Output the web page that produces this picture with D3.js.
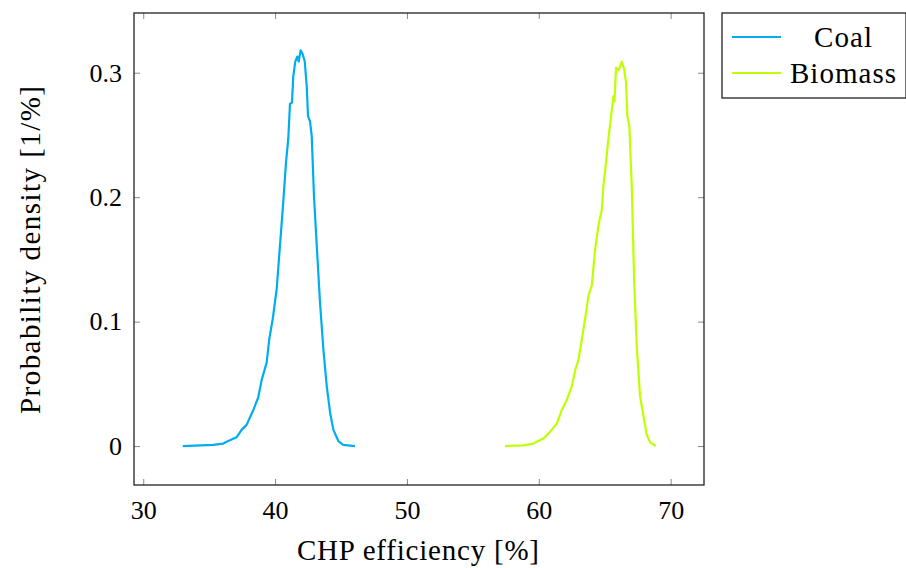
<!DOCTYPE html>
<html>
<head>
<meta charset="utf-8">
<script src="https://cdnjs.cloudflare.com/ajax/libs/d3/7.8.5/d3.min.js"></script>
<style>
  body { margin: 0; background: #fff; }
  svg text { font-family: "Liberation Serif", "DejaVu Serif", serif; fill: #000; }
</style>
</head>
<body>
<svg id="chart" width="906" height="568"></svg>
<script>
// efficiency [%] / density [1/%] pairs
var coalX = [33.0, 35.3, 36.07, 36.45, 37.08, 37.46, 37.84, 38.35, 38.72, 38.98, 39.36, 39.56,
  39.82, 40.12, 40.37, 40.62, 40.83, 41.0, 41.13, 41.28, 41.38, 41.53, 41.68, 41.79, 41.94,
  42.09, 42.25, 42.4, 42.5, 42.65, 42.78, 42.95, 43.16, 43.41, 43.66, 43.92, 44.17, 44.42,
  44.8, 45.17, 46.06];
var coalY = [0, 0.001, 0.002, 0.004, 0.007, 0.013, 0.017, 0.029, 0.039, 0.053, 0.067, 0.086,
  0.102, 0.126, 0.161, 0.196, 0.228, 0.247, 0.275, 0.276, 0.297, 0.309, 0.313, 0.309, 0.318,
  0.315, 0.309, 0.289, 0.265, 0.261, 0.249, 0.201, 0.161, 0.115, 0.078, 0.048, 0.027, 0.013,
  0.004, 0.001, 0];
var bioX = [57.44, 58.83, 59.59, 60.35, 60.73, 61.37, 61.75, 62.12, 62.5, 62.76, 63.0, 63.27,
  63.51, 63.77, 64.02, 64.27, 64.52, 64.78, 64.9, 65.1, 65.28, 65.46, 65.66, 65.74, 65.86,
  66.04, 66.17, 66.29, 66.47, 66.62, 66.72, 66.87, 67.05, 67.23, 67.43, 67.68, 67.94, 68.19,
  68.44, 68.88];
var bioY = [0, 0.0005, 0.002, 0.006, 0.010, 0.018, 0.029, 0.037, 0.048, 0.061, 0.069, 0.086,
  0.102, 0.121, 0.129, 0.158, 0.177, 0.19, 0.209, 0.228, 0.247, 0.263, 0.281, 0.277, 0.304,
  0.302, 0.305, 0.309, 0.303, 0.292, 0.265, 0.257, 0.209, 0.134, 0.080, 0.040, 0.024, 0.009,
  0.003, 0];
var xTicks = [30, 40, 50, 60, 70];
var yTicks = [0, 0.1, 0.2, 0.3];
var seriesNames = ["Coal", "Biomass"];
var seriesColors = ["#00aeef", "#bfff00"];

(function() {
  var svg = d3.select("#chart");
  var mL = 134, mT = 13, w = 570, h = 472;

  var x = d3.scaleLinear().domain([29.3, 72.53]).range([mL, mL + w]);
  var y = d3.scaleLinear().domain([-0.0313, 0.348]).range([mT + h, mT]);

  var g = svg.append("g");

  // inner ticks, mirrored on all four sides
  var tickLen = 6;
  function tickStyle(sel) {
    sel.select(".domain").remove();
    sel.selectAll(".tick line").attr("stroke", "#888").attr("stroke-width", 1);
    sel.selectAll(".tick text").attr("fill", "#000")
      .style("font-family", "'Liberation Serif', serif").style("font-size", "26px");
  }
  g.append("g").attr("transform", "translate(0," + (mT + h) + ")")
    .call(d3.axisBottom(x).tickValues(xTicks).tickFormat(d3.format("d"))
      .tickSizeInner(-tickLen).tickPadding(tickLen + 10))
    .call(tickStyle);
  g.append("g").attr("transform", "translate(0," + mT + ")")
    .call(d3.axisTop(x).tickValues(xTicks).tickFormat("").tickSizeInner(-tickLen))
    .call(tickStyle);
  g.append("g").attr("transform", "translate(" + mL + ",0)")
    .call(d3.axisLeft(y).tickValues(yTicks)
      .tickFormat(function(d) { return d === 0 ? "0" : d3.format(".1f")(d); })
      .tickSizeInner(-tickLen).tickPadding(tickLen + 6))
    .call(tickStyle);
  g.append("g").attr("transform", "translate(" + (mL + w) + ",0)")
    .call(d3.axisRight(y).tickValues(yTicks).tickFormat("").tickSizeInner(-tickLen))
    .call(tickStyle);

  // curves
  var line = d3.line().x(function(d) { return x(d[0]); }).y(function(d) { return y(d[1]); });
  var series = [d3.zip(coalX, coalY), d3.zip(bioX, bioY)];
  g.selectAll("path.curve").data(series).enter().append("path")
    .attr("class", "curve")
    .attr("d", line)
    .attr("fill", "none")
    .attr("stroke", function(d, i) { return seriesColors[i]; })
    .attr("stroke-width", 2.2)
    .attr("stroke-linejoin", "round");

  // frame
  g.append("rect").attr("x", mL).attr("y", mT).attr("width", w).attr("height", h)
    .attr("fill", "none").attr("stroke", "#222").attr("stroke-width", 1.3);

  // axis labels (Palatino in the original is wider, so stretch the spacing)
  svg.append("text").attr("x", mL + w / 2 - 1).attr("y", 560)
    .attr("text-anchor", "middle").style("font-size", "29px")
    .attr("textLength", 242).attr("lengthAdjust", "spacing")
    .text("CHP efficiency [%]");
  svg.append("text").attr("transform", "translate(40," + (mT + h / 2 + 1) + ") rotate(-90)")
    .attr("text-anchor", "middle").style("font-size", "29px")
    .attr("textLength", 328).attr("lengthAdjust", "spacing")
    .text("Probability density [1/%]");

  // legend
  var lg = svg.append("g");
  lg.append("rect").attr("x", 722).attr("y", 13).attr("width", 184).attr("height", 85)
    .attr("fill", "#fff").attr("stroke", "#222").attr("stroke-width", 1.3);
  var items = lg.selectAll("g.item").data(seriesNames).enter().append("g")
    .attr("transform", function(d, i) { return "translate(0," + (37 + i * 36) + ")"; });
  items.append("line").attr("x1", 732).attr("x2", 781).attr("y1", 0).attr("y2", 0)
    .attr("stroke", function(d, i) { return seriesColors[i]; }).attr("stroke-width", 2.2);
  items.append("text").attr("x", 843).attr("y", 10).attr("text-anchor", "middle")
    .style("font-size", "29px")
    .attr("textLength", function(d) { return d === "Coal" ? 58 : 106; })
    .attr("lengthAdjust", "spacing")
    .text(function(d) { return d; });
})();
</script>
</body>
</html>
